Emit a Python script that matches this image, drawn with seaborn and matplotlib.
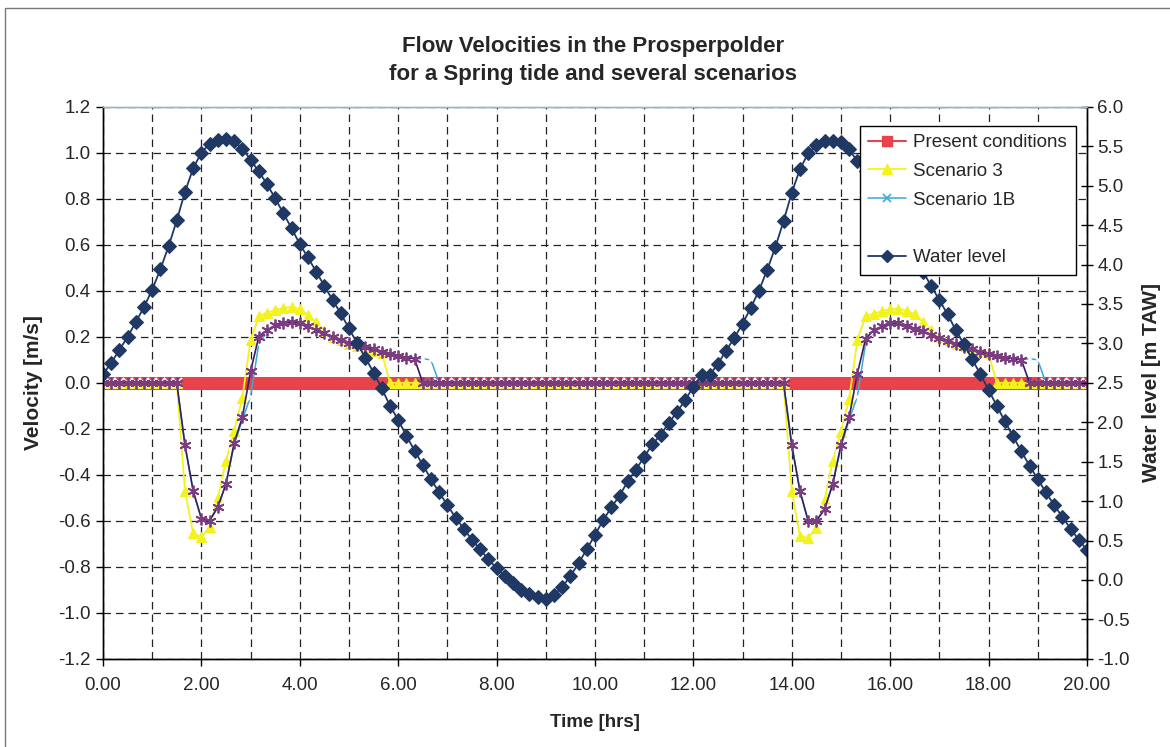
import numpy as np
import seaborn as sns
import matplotlib.pyplot as plt
from matplotlib.lines import Line2D
from matplotlib.patches import Rectangle

# time base: one reading every 10 minutes, 0 - 20 hrs
time_min = list(range(0, 1201, 10))
time_hrs = np.array(time_min) / 60.0

# velocities [m/s], rows are one hour (6 readings each)
present = [0.0] * 121

scenario_3 = [
    0, 0, 0, 0, 0, 0,
    0, 0, 0, 0, -0.47, -0.655,
    -0.67, -0.625, -0.50, -0.34, -0.21, -0.065,
    0.185, 0.29, 0.305, 0.315, 0.325, 0.33,
    0.32, 0.295, 0.265, 0.225, 0.20, 0.185,
    0.17, 0.16, 0.15, 0.14, 0.13, 0,
    0, 0, 0, 0, 0, 0,
    0, 0, 0, 0, 0, 0,
    0, 0, 0, 0, 0, 0,
    0, 0, 0, 0, 0, 0,
    0, 0, 0, 0, 0, 0,
    0, 0, 0, 0, 0, 0,
    0, 0, 0, 0, 0, 0,
    0, 0, 0, 0, 0, 0,
    -0.47, -0.665, -0.675, -0.63, -0.51, -0.34,
    -0.215, -0.07, 0.185, 0.29, 0.30, 0.313,
    0.32, 0.323, 0.313, 0.298, 0.265, 0.228,
    0.20, 0.185, 0.17, 0.16, 0.15, 0.14,
    0.13, 0, 0, 0, 0, 0,
    0, 0, 0, 0, 0, 0,
    0,
]

scenario_1b = [
    0, 0, 0, 0, 0, 0,
    0, 0, 0, 0, -0.27, -0.47,
    -0.59, -0.60, -0.54, -0.44, -0.27, -0.16,
    -0.06, 0.17, 0.22, 0.245, 0.255, 0.26,
    0.255, 0.245, 0.23, 0.215, 0.20, 0.185,
    0.175, 0.165, 0.155, 0.145, 0.135, 0.125,
    0.115, 0.11, 0.105, 0.105, 0.10, 0,
    0, 0, 0, 0, 0, 0,
    0, 0, 0, 0, 0, 0,
    0, 0, 0, 0, 0, 0,
    0, 0, 0, 0, 0, 0,
    0, 0, 0, 0, 0, 0,
    0, 0, 0, 0, 0, 0,
    0, 0, 0, 0, 0, 0,
    -0.27, -0.47, -0.60, -0.60, -0.55, -0.44,
    -0.28, -0.16, -0.06, 0.17, 0.22, 0.24,
    0.255, 0.255, 0.245, 0.235, 0.225, 0.21,
    0.195, 0.18, 0.167, 0.155, 0.145, 0.135,
    0.125, 0.115, 0.11, 0.105, 0.10, 0.105,
    0.10, 0, 0, 0, 0, 0,
    0,
]

# unlabelled series (legend entry left blank in the original)
scenario_x = [
    0, 0, 0, 0, 0, 0,
    0, 0, 0, 0, -0.27, -0.47,
    -0.59, -0.60, -0.54, -0.44, -0.26, -0.15,
    0.05, 0.20, 0.23, 0.25, 0.26, 0.265,
    0.26, 0.245, 0.23, 0.215, 0.20, 0.185,
    0.175, 0.165, 0.155, 0.145, 0.135, 0.125,
    0.115, 0.11, 0.105, 0, 0, 0,
    0, 0, 0, 0, 0, 0,
    0, 0, 0, 0, 0, 0,
    0, 0, 0, 0, 0, 0,
    0, 0, 0, 0, 0, 0,
    0, 0, 0, 0, 0, 0,
    0, 0, 0, 0, 0, 0,
    0, 0, 0, 0, 0, 0,
    -0.27, -0.47, -0.60, -0.60, -0.55, -0.44,
    -0.27, -0.15, 0.04, 0.19, 0.23, 0.245,
    0.26, 0.26, 0.245, 0.235, 0.225, 0.21,
    0.195, 0.18, 0.167, 0.155, 0.145, 0.135,
    0.125, 0.115, 0.11, 0.105, 0.10, 0,
    0, 0, 0, 0, 0, 0,
    0,
]

# water level [m TAW]
water_level = [
    2.61, 2.75, 2.92, 3.08, 3.27, 3.46,
    3.68, 3.94, 4.23, 4.56, 4.92, 5.22,
    5.42, 5.53, 5.58, 5.59, 5.57, 5.47,
    5.33, 5.18, 5.02, 4.84, 4.65, 4.46,
    4.26, 4.09, 3.91, 3.73, 3.55, 3.38,
    3.19, 3.00, 2.82, 2.63, 2.43, 2.21,
    2.03, 1.83, 1.64, 1.46, 1.28, 1.11,
    0.95, 0.79, 0.65, 0.51, 0.39, 0.26,
    0.15, 0.05, -0.04, -0.13, -0.18, -0.22,
    -0.24, -0.19, -0.09, 0.05, 0.21, 0.39,
    0.57, 0.76, 0.92, 1.07, 1.25, 1.40,
    1.56, 1.72, 1.84, 1.99, 2.13, 2.28,
    2.45, 2.60, 2.60, 2.74, 2.91, 3.07,
    3.25, 3.45, 3.67, 3.93, 4.22, 4.55,
    4.91, 5.21, 5.41, 5.51, 5.57, 5.57,
    5.55, 5.46, 5.31, 5.18, 5.02, 4.84,
    4.65, 4.46, 4.26, 4.09, 3.91, 3.73,
    3.55, 3.37, 3.17, 2.99, 2.80, 2.61,
    2.41, 2.21, 2.01, 1.82, 1.63, 1.45,
    1.28, 1.11, 0.95, 0.80, 0.65, 0.51,
    0.38,
]

x_ticks = [0, 2, 4, 6, 8, 10, 12, 14, 16, 18, 20]
x_labels = ["0.00", "2.00", "4.00", "6.00", "8.00", "10.00",
            "12.00", "14.00", "16.00", "18.00", "20.00"]
vel_ticks = [-1.2, -1.0, -0.8, -0.6, -0.4, -0.2, 0.0, 0.2, 0.4, 0.6, 0.8, 1.0, 1.2]
vel_labels = ["-1.2", "-1.0", "-0.8", "-0.6", "-0.4", "-0.2", "0.0",
              "0.2", "0.4", "0.6", "0.8", "1.0", "1.2"]
wl_ticks = [-1.0, -0.5, 0.0, 0.5, 1.0, 1.5, 2.0, 2.5, 3.0, 3.5, 4.0, 4.5, 5.0, 5.5, 6.0]
wl_labels = ["-1.0", "-0.5", "0.0", "0.5", "1.0", "1.5", "2.0", "2.5",
             "3.0", "3.5", "4.0", "4.5", "5.0", "5.5", "6.0"]

sns.set_style("white")
plt.rcParams['font.family'] = ['Liberation Sans', 'DejaVu Sans']

RED = '#e8434b'
YELLOW = '#f4f21c'
BLUE = '#3aa8da'
PURPLE = '#7b3c80'
PURPLE_LINE = '#33205e'
NAVY = '#1f3864'

fig = plt.figure(figsize=(11.7, 7.47), dpi=100)
ax = fig.add_axes([0.0880, 0.118, 0.8410, 0.739])

# velocities on the left axis
sns.lineplot(x=time_hrs, y=present, ax=ax, color=RED, marker='s',
             markersize=8, markeredgecolor=RED, linewidth=1.5, legend=False, zorder=2)
sns.lineplot(x=time_hrs, y=scenario_3, ax=ax, color=YELLOW, marker='^',
             markersize=7.5, markeredgecolor=YELLOW, linewidth=1.3, legend=False, zorder=3)
sns.lineplot(x=time_hrs, y=scenario_1b, ax=ax, color=BLUE, marker='x',
             markersize=6.5, markeredgewidth=1.2, linewidth=1.1, legend=False, zorder=4)
sns.lineplot(x=time_hrs, y=scenario_x, ax=ax, color=PURPLE_LINE, marker=(6, 2, 0),
             markersize=8.5, markeredgecolor=PURPLE, markeredgewidth=1.3,
             linewidth=1.2, legend=False, zorder=5)

ax.set_xlim(0, 20)
ax.set_ylim(-1.2, 1.2)
ax.set_xticks(x_ticks)
ax.set_xticklabels(x_labels, fontsize=13.5)
ax.set_xticks(range(0, 21), minor=True)
ax.set_yticks(vel_ticks)
ax.set_yticklabels(vel_labels, fontsize=13.5)
ax.grid(True, which='both', axis='x', color='#222222', linestyle=(0, (6, 4)), linewidth=0.9)
ax.grid(True, which='major', axis='y', color='#222222', linestyle=(0, (6, 4)), linewidth=0.9)
ax.tick_params(axis='x', which='major', direction='out', length=5, width=1,
               color='black', bottom=True, pad=8)
ax.tick_params(axis='y', which='major', direction='out', length=5, width=1,
               color='black', left=True, pad=4)
ax.set_xlabel("Time [hrs]", fontsize=13.5, fontweight='bold')
ax.set_ylabel("Velocity [m/s]", fontsize=15, fontweight='bold')
ax.xaxis.set_label_coords(0.5, -0.1)
ax.yaxis.set_label_coords(-0.061, 0.5)

# water level on the right axis
ax2 = ax.twinx()
sns.lineplot(x=time_hrs, y=water_level, ax=ax2, color=NAVY, marker='D',
             markersize=7.5, markeredgecolor=NAVY, linewidth=1.3, legend=False)
ax2.set_ylim(-1.0, 6.0)
ax2.set_yticks(wl_ticks)
ax2.set_yticklabels(wl_labels, fontsize=13.5)
ax2.tick_params(axis='y', direction='inout', length=8, width=1, color='black', right=True)
ax2.set_ylabel("Water level [m TAW]", fontsize=15, fontweight='bold')
ax2.yaxis.set_label_coords(1.056, 0.5)
ax2.grid(False)

for a in (ax, ax2):
    for side in ('left', 'right', 'bottom'):
        a.spines[side].set_color('black')
        a.spines[side].set_linewidth(1.0)
    a.spines['top'].set_color('#9bb4c6')
    a.spines['top'].set_linewidth(1.0)

# legend with the blank fourth entry as in the original
handles = [
    Line2D([], [], color=RED, marker='s', markersize=7, linewidth=1.5),
    Line2D([], [], color=YELLOW, marker='^', markersize=7, linewidth=1.3),
    Line2D([], [], color=BLUE, marker='x', markersize=6, markeredgewidth=1.2, linewidth=1.1),
    Line2D([], [], color='none'),
    Line2D([], [], color=NAVY, marker='D', markersize=6.5, linewidth=1.3),
]
labels = ["Present conditions", "Scenario 3", "Scenario 1B", "", "Water level"]
leg = ax2.legend(handles, labels, loc='upper right', bbox_to_anchor=(0.9885, 0.966),
                 fontsize=13.5, frameon=True, fancybox=False, handlelength=2.0,
                 borderpad=0.45, labelspacing=0.62, handletextpad=0.4, borderaxespad=0)
leg.get_frame().set_edgecolor('black')
leg.get_frame().set_linewidth(1.0)
leg.get_frame().set_alpha(1.0)

fig.text(0.507, 0.919, "Flow Velocities in the Prosperpolder\nfor a Spring tide and several scenarios",
         ha='center', va='center', fontsize=16, fontweight='bold', linespacing=1.45)

# chart area border
fig.add_artist(Rectangle((5 / 1170, -0.05), 1.2, 1.05 - 8 / 747, transform=fig.transFigure,
                         fill=False, edgecolor='#777777', linewidth=1.0))

fig.savefig('out.png', dpi=100)
